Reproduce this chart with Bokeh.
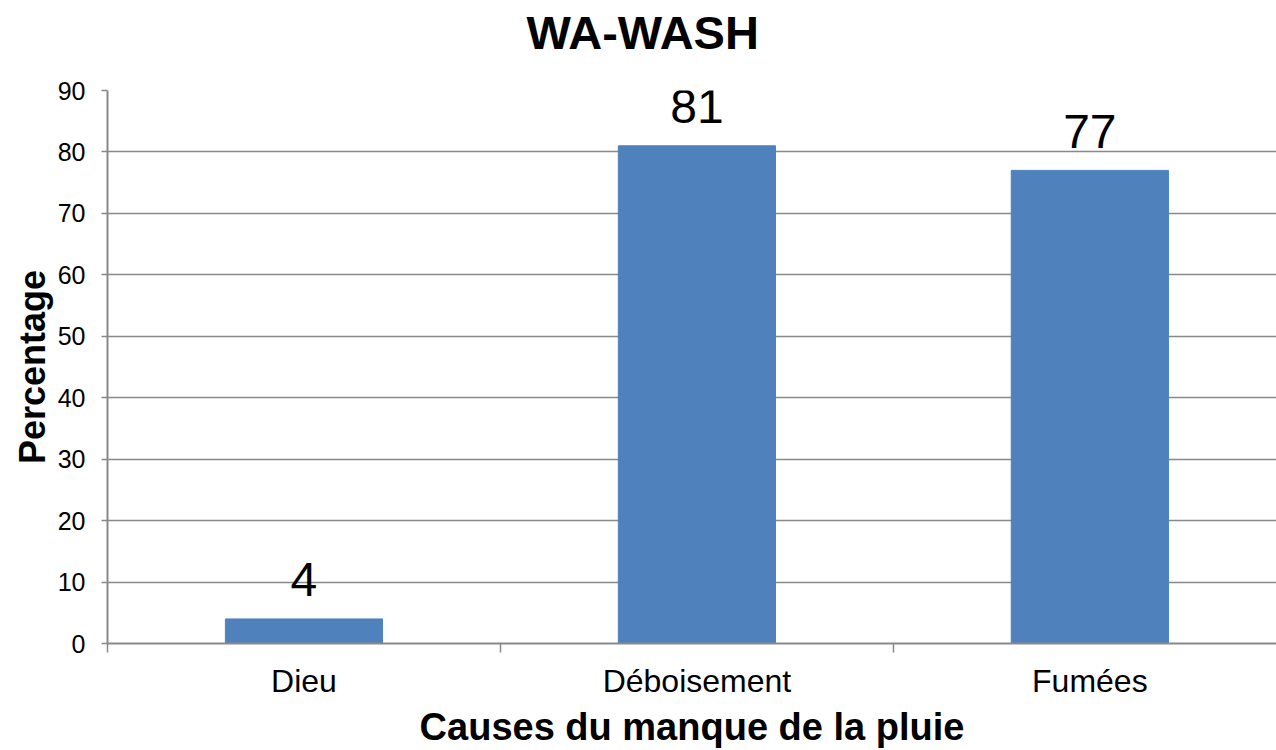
from bokeh.plotting import figure
from bokeh.models import Range1d, FixedTicker, ColumnDataSource, Title
from bokeh.core.properties import value
from bokeh.embed import file_html
from bokeh.resources import INLINE

# ---- data ----
categories = ["Dieu", "Déboisement", "Fumées"]
percentages = [4, 81, 77]
y_ticks = [0, 10, 20, 30, 40, 50, 60, 70, 80, 90]
title_text = "WA-WASH"
x_title = "Causes du manque de la pluie"
y_title = "Percentage"

FONT = "Liberation Sans"
GRAY = "#898989"
BAR = "#4F81BD"

xpos = [i + 0.5 for i in range(len(categories))]
src = ColumnDataSource(dict(x=xpos, y=percentages, lab=[str(v) for v in percentages]))

p = figure(width=1276, height=750, output_backend="svg", toolbar_location=None,
           x_range=Range1d(0, 2.975), y_range=Range1d(0, 90),
           min_border_left=107, min_border_right=0, min_border_top=90, min_border_bottom=106)
# spacer between title and plot area
p.add_layout(Title(text=" ", text_font_size="2px", standoff=26, text_color="white"), "above")
p.title = Title(text=title_text, align="left", offset=419, vertical_align="top", standoff=0,
                text_font=FONT, text_font_size="47px", text_font_style="bold", text_color="black")
p.outline_line_color = None
p.background_fill_color = "white"

p.vbar(x="x", top="y", width=0.4, source=src, fill_color=BAR, line_color=BAR)
p.text(x="x", y="y", text="lab", source=src, text_align="center", text_baseline="alphabetic",
       y_offset=-39, text_font=value(FONT), text_font_size="48px", text_color="black")

# x axis
p.xaxis.ticker = FixedTicker(ticks=xpos, minor_ticks=list(range(len(categories) + 1)))
p.xaxis.major_label_overrides = {x: c for x, c in zip(xpos, categories)}
p.xaxis.major_tick_line_color = None
p.xaxis.major_tick_out = 0
p.xaxis.major_tick_in = 0
p.xaxis.minor_tick_line_color = GRAY
p.xaxis.minor_tick_line_width = 1.5
p.xaxis.minor_tick_out = 9
p.xaxis.minor_tick_in = 0
p.xaxis.axis_line_color = GRAY
p.xaxis.axis_line_width = 2
p.xaxis.major_label_text_font = FONT
p.xaxis.major_label_text_font_size = "32px"
p.xaxis.major_label_text_color = "black"
p.xaxis.major_label_standoff = 10
p.xaxis.axis_label = x_title
p.xaxis.axis_label_text_font = FONT
p.xaxis.axis_label_text_font_size = "38px"
p.xaxis.axis_label_text_font_style = "bold"
p.xaxis.axis_label_text_color = "black"
p.xaxis.axis_label_standoff = 4

# y axis
p.yaxis.ticker = FixedTicker(ticks=y_ticks)
p.yaxis.axis_line_color = GRAY
p.yaxis.axis_line_width = 2
p.yaxis.major_tick_line_color = GRAY
p.yaxis.major_tick_line_width = 1.5
p.yaxis.major_tick_out = 6
p.yaxis.major_tick_in = 0
p.yaxis.minor_tick_line_color = None
p.yaxis.major_label_text_font = FONT
p.yaxis.major_label_text_font_size = "25px"
p.yaxis.major_label_text_color = "black"
p.yaxis.major_label_standoff = 16
p.yaxis.axis_label = y_title
p.yaxis.axis_label_text_font = FONT
p.yaxis.axis_label_text_font_size = "36px"
p.yaxis.axis_label_text_font_style = "bold"
p.yaxis.axis_label_text_color = "black"
p.yaxis.axis_label_standoff = 2

# grid
p.xgrid.grid_line_color = None
p.ygrid.grid_line_color = GRAY
p.ygrid.grid_line_width = 1.5

open("out.html", "w").write(file_html(p, INLINE))
